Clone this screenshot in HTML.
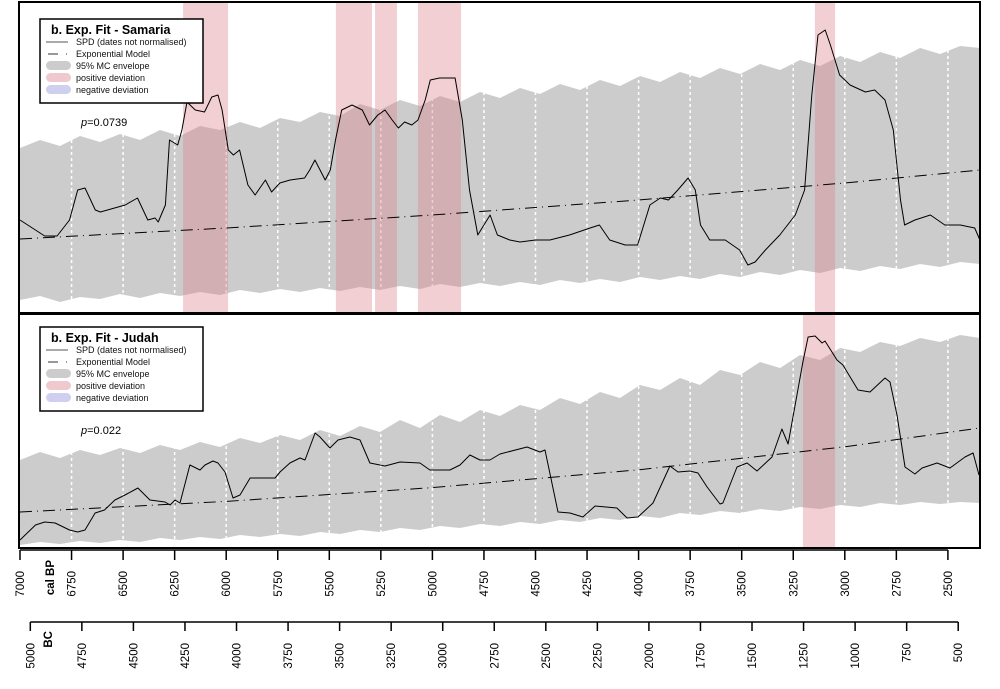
<!DOCTYPE html>
<html><head><meta charset="utf-8"><style>
html,body{margin:0;padding:0;background:#fff}
svg{display:block;font-family:"Liberation Sans",sans-serif}
</style></head><body>
<svg id="chart" width="1000" height="689" viewBox="0 0 1000 689" xmlns="http://www.w3.org/2000/svg"></svg>
<script>
// ---- data ----
const bpTicks = [7000,6750,6500,6250,6000,5750,5500,5250,5000,4750,4500,4250,4000,3750,3500,3250,3000,2750,2500];
const bcTicks = [5000,4750,4500,4250,4000,3750,3500,3250,3000,2750,2500,2250,2000,1750,1500,1250,1000,750,500];
const gridYears = [6750,6500,6250,6000,5750,5500,5250,5000,4750,4500,4250,4000,3750,3500,3250,3000,2750,2500];

const samYears = [7000,6880,6820,6760,6720,6685,6635,6610,6490,6430,6380,6345,6330,6295,6275,6235,6215,6190,6150,6105,6070,6040,6020,5990,5965,5935,5895,5860,5810,5780,5740,5690,5620,5595,5570,5520,5495,5470,5440,5390,5340,5305,5265,5230,5195,5165,5135,5100,5070,5035,5010,4965,4890,4855,4820,4780,4750,4720,4685,4625,4575,4500,4430,4335,4235,4190,4140,4065,4005,3945,3895,3855,3810,3760,3725,3700,3655,3580,3510,3470,3435,3385,3315,3240,3195,3160,3130,3095,3070,3025,2975,2900,2855,2805,2765,2730,2710,2660,2585,2515,2440,2370,2345];
const samSpd = [93,77,77,93,123,125,103,101,108,115,93,95,91,108,173,168,183,211,203,201,216,218,203,163,158,163,128,118,133,121,130,133,135,143,153,133,143,173,203,208,203,188,198,203,193,185,191,188,193,213,233,235,235,193,123,78,88,98,78,73,71,73,73,78,85,88,73,68,68,108,115,113,123,135,123,88,73,73,63,48,51,63,78,98,123,218,278,283,268,238,228,221,223,213,183,113,88,93,98,88,88,85,73];
const samEnvHi = [165,173,167,177,171,179,173,183,177,187,183,191,185,195,191,201,197,209,203,213,207,217,211,221,215,225,219,229,223,233,227,237,231,241,235,245,239,249,243,253,247,257,251,261,255,265,259,267,265];
const samEnvLo = [13,17,11,16,14,19,15,20,17,21,18,23,20,24,21,25,22,26,23,27,24,29,26,30,27,31,28,33,30,34,31,36,33,37,34,39,36,41,38,43,40,45,42,47,44,49,46,51,49];
const samBands = [[6209,5991],[5468,5293],[5278,5172],[5070,4861],[3145,3047]];

const judYears = [7000,6925,6880,6830,6760,6720,6685,6636,6590,6540,6491,6428,6370,6297,6272,6248,6224,6176,6127,6103,6064,6040,6006,5967,5933,5884,5763,5739,5691,5642,5618,5569,5545,5497,5458,5400,5351,5303,5230,5157,5060,5012,4915,4866,4818,4769,4721,4672,4541,4478,4454,4391,4333,4270,4211,4105,4056,4003,3930,3848,3809,3751,3712,3668,3605,3591,3523,3474,3426,3353,3305,3275,3203,3178,3144,3110,3096,3038,3009,2936,2878,2805,2781,2747,2708,2660,2625,2553,2490,2417,2378,2349];
const judSpd = [8,23,26,25,18,16,18,35,38,48,53,60,48,46,43,48,45,83,78,83,87,85,76,50,53,70,70,76,85,90,88,115,111,100,108,111,108,85,82,86,85,78,78,83,93,88,88,94,101,96,98,36,35,31,42,40,30,31,45,82,76,77,75,61,44,45,81,85,77,91,119,104,186,211,212,205,207,188,183,158,156,170,166,133,81,74,80,85,80,91,95,73];
const judEnvHi = [88,96,90,98,93,100,95,103,98,106,101,110,105,113,108,118,112,122,116,128,120,133,126,138,132,143,138,150,144,156,150,163,158,170,163,178,173,186,180,193,188,200,196,206,202,210,206,213,210];
const judEnvLo = [3,6,4,7,5,8,6,10,8,11,9,13,11,14,12,16,14,18,16,20,18,22,20,24,22,26,24,28,26,30,28,32,30,35,33,37,35,39,37,41,39,43,41,45,43,46,44,46,45];
const judBands = [[3203,3047]];

const modelYears = [7000,6000,5000,4000,3000,2345];
const samModel = [74,85,98,113,130,143];
const judModel = [36,46.6,60.4,78.2,101.2,120];

// ---- scales ----
const NS='http://www.w3.org/2000/svg';
const svg=document.getElementById('chart');
const X0=20, PX_PER_YR=51.55/250;
function xs(bp){return X0+(7000-bp)*PX_PER_YR;}
const envYears=[]; for(let i=0;i<49;i++) envYears.push(7000-97*i);
function mk(tag,attrs,parent){const e=document.createElementNS(NS,tag);for(const k in attrs)e.setAttribute(k,attrs[k]);(parent||svg).appendChild(e);return e;}

function panel(cfg){
  const ys=v=>cfg.bottom-v*cfg.k;
  const g=mk('g',{});
  
  
  // envelope
  let d='';
  envYears.forEach((t,i)=>{d+=(i?'L':'M')+xs(t).toFixed(1)+','+ys(cfg.hi[i]).toFixed(1);});
  for(let i=envYears.length-1;i>=0;i--) d+='L'+xs(envYears[i]).toFixed(1)+','+ys(cfg.lo[i]).toFixed(1);
  const env=mk('path',{d:d+'Z',fill:'#cccccc'},g);
  
  
  // grid
  gridYears.forEach(t=>{
    const l=mk('line',{x1:xs(t),x2:xs(t),y1:cfg.top,y2:cfg.bottom,stroke:'#fff','stroke-width':1.5,'stroke-dasharray':'3 3'},g);
    
    
  });
  // bands
  cfg.bands.forEach(b=>{
    const r=mk('rect',{x:xs(b[0]),y:cfg.top,width:xs(b[1])-xs(b[0]),height:cfg.bottom-cfg.top,fill:'#d9808c','fill-opacity':0.38},g);
    
    
  });
  // model
  let md='';
  modelYears.forEach((t,i)=>{md+=(i?'L':'M')+xs(t).toFixed(1)+','+ys(cfg.model[i]).toFixed(1);});
  const m=mk('path',{d:md,fill:'none',stroke:'#000','stroke-width':1,'stroke-dasharray':'12 5 1 5'},g);
  
  
  // spd
  let sd='';
  cfg.years.forEach((t,i)=>{sd+=(i?'L':'M')+xs(t).toFixed(1)+','+ys(cfg.spd[i]).toFixed(1);});
  const s=mk('path',{d:sd,fill:'none',stroke:'#000','stroke-width':1,'stroke-linejoin':'round'},g);
  
  
  // frame
  const f=mk('rect',{x:19,y:cfg.top,width:961,height:cfg.bottom-cfg.top,fill:'none',stroke:'#000','stroke-width':2},g);
  
  
  // legend
  const L=mk('g',{},g);
  
  
  const ly=cfg.legY;
  mk('rect',{x:40,y:ly,width:163,height:84,fill:'#fff',stroke:'#000','stroke-width':1.5},L);
  const tt=mk('text',{x:51,y:ly+15,'font-size':12.5,'font-weight':'bold'},L); tt.textContent=cfg.title;
   
  const labels=['SPD (dates not normalised)','Exponential Model','95% MC envelope','positive deviation','negative deviation'];
  labels.forEach((lb,i)=>{
    const y=ly+26+i*12;
    if(i==0) mk('line',{x1:46,x2:68,y1:y-3,y2:y-3,stroke:'#555','stroke-width':1},L);
    else if(i==1){mk('line',{x1:48,x2:58,y1:y-3,y2:y-3,stroke:'#333','stroke-width':1},L);mk('line',{x1:66,x2:67,y1:y-3,y2:y-3,stroke:'#333','stroke-width':1},L);}
    else mk('rect',{x:46,y:y-8,width:25,height:9,rx:4.5,fill:['#cccccc','#efc9ce','#cfcff0'][i-2]},L);
    const t=mk('text',{x:76,y:y,'font-size':9,fill:'#111'},L); t.textContent=lb;
     
  });
  const p=mk('text',{x:81,y:cfg.pY,'font-size':11},g);
  p.innerHTML='<tspan font-style="italic">p</tspan>='+cfg.p;
   
}
panel({name:'samaria',top:2,bottom:313,k:1,hi:samEnvHi,lo:samEnvLo,bands:samBands,model:samModel,years:samYears,spd:samSpd,legY:19,title:'b. Exp. Fit - Samaria',pY:126,p:'0.0739'});
panel({name:'judah',top:314,bottom:548,k:1,hi:judEnvHi,lo:judEnvLo,bands:judBands,model:judModel,years:judYears,spd:judSpd,legY:327,title:'b. Exp. Fit - Judah',pY:434,p:'0.022'});

// ---- axes ----
const ax=mk('g',{});


mk('line',{x1:xs(7000),x2:xs(2500),y1:550,y2:550,stroke:'#000','stroke-width':1.5},ax);
bpTicks.forEach(t=>{
  mk('line',{x1:xs(t),x2:xs(t),y1:550,y2:560,stroke:'#000','stroke-width':1.5},ax);
  const tx=mk('text',{x:0,y:0,'font-size':11.5,'text-anchor':'end',transform:`translate(${xs(t)+4},571) rotate(-90)`},ax);
  tx.textContent=t;
   
});
const bpl=mk('text',{x:0,y:0,'font-size':11.5,'font-weight':'bold','text-anchor':'end',transform:'translate(54,560) rotate(-90)'},ax);
bpl.textContent='cal BP';
 

const bx=mk('g',{});


mk('line',{x1:xs(5000+1950),x2:xs(500+1950),y1:622,y2:622,stroke:'#000','stroke-width':1.5},bx);
bcTicks.forEach(t=>{
  const x=xs(t+1950);
  mk('line',{x1:x,x2:x,y1:622,y2:631,stroke:'#000','stroke-width':1.5},bx);
  const tx=mk('text',{x:0,y:0,'font-size':11.5,'text-anchor':'end',transform:`translate(${x+4},643) rotate(-90)`},bx);
  tx.textContent=t;
   
});
const bcl=mk('text',{x:0,y:0,'font-size':11.5,'font-weight':'bold','text-anchor':'end',transform:'translate(52,631) rotate(-90)'},bx);
bcl.textContent='BC';
 
</script>
</body></html>
